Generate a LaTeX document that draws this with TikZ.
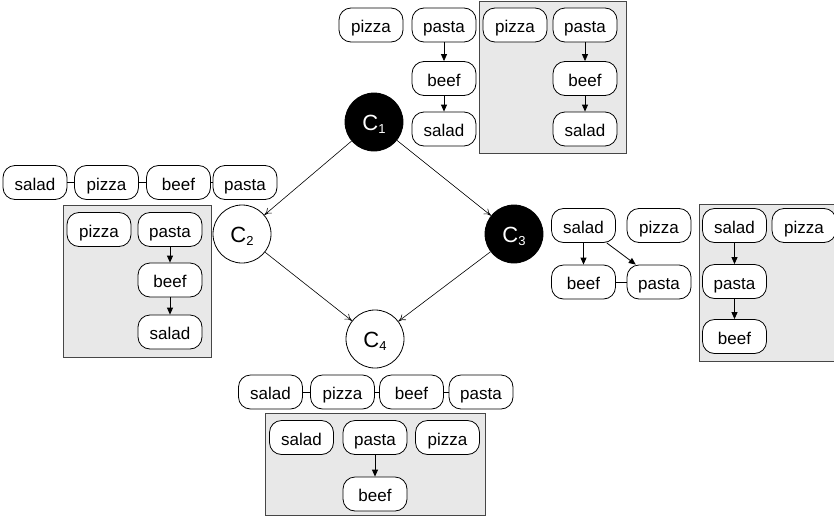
\documentclass[tikz,border=0pt]{standalone}
\usepackage{fontspec}
\setmainfont{Liberation Sans}
\usetikzlibrary{arrows.meta}
\definecolor{boxgray}{RGB}{232,232,232}
\definecolor{boxedge}{RGB}{70,70,70}
\newcommand{\clabel}[1]{\fontsize{22}{24}\selectfont C\raisebox{-2.5pt}{\fontsize{13}{13}\selectfont #1}}
\tikzset{
  pill/.style={draw, line width=0.8pt, fill=white, rounded corners=12pt, minimum width=64pt, minimum height=34pt, inner sep=0pt, text height=17pt, text depth=1.4pt, font=\fontsize{17}{20}\selectfont},
  graybox/.style={draw=boxedge, line width=0.9pt, fill=boxgray},
  cnode/.style={circle, draw, line width=0.8pt, minimum size=58pt, inner sep=0pt},
  darknode/.style={cnode, fill=black, text=white},
  lightnode/.style={cnode, fill=white},
  mainedge/.style={line width=0.6pt, -{To[length=7pt,width=7pt]}},
  smallarrow/.style={line width=0.8pt, -{Triangle[length=7pt,width=6pt]}},
  undir/.style={line width=0.8pt}
}
\begin{document}
\begin{tikzpicture}[x=1pt,y=-1pt]
\useasboundingbox (0,0) rectangle (834,522);
% gray boxes
\filldraw[graybox] (479,1) rectangle (626,153);
\filldraw[graybox] (63,205) rectangle (211,357);
\filldraw[graybox] (699,204) rectangle (845,361);
\filldraw[graybox] (265,413) rectangle (485,515);

% circles
\node[darknode] (c1) at (374,122) {};
\node[lightnode] (c2) at (242,234) {};
\node[darknode] (c3) at (514,234) {};
\node[lightnode] (c4) at (375,339) {};
\node[text=white] (l1) at (c1.center) [yshift=-2.5pt] {\clabel{1}};
\node (l2) at (c2.center) [yshift=-2.5pt] {\clabel{2}};
\node[text=white] (l3) at (c3.center) [yshift=-2.5pt] {\clabel{3}};
\node (l4) at (c4.center) [yshift=-2.5pt] {\clabel{4}};
\draw[mainedge] (c1) -- (c2);
\draw[mainedge] (c1) -- (c3);
\draw[mainedge] (c2) -- (c4);
\draw[mainedge] (c3) -- (c4);

% top group
\node[pill] (tpizza) at (371,25) {pizza};
\node[pill] (tpasta) at (444,25) {pasta};
\node[pill] (tbeef) at (444,78.5) {beef};
\node[pill] (tsalad) at (444,129) {salad};
\draw[smallarrow] (tpasta) -- (tbeef);
\draw[smallarrow] (tbeef) -- (tsalad);
\node[pill] (tbpizza) at (515,25) {pizza};
\node[pill] (tbpasta) at (585,25) {pasta};
\node[pill] (tbbeef) at (585,78.5) {beef};
\node[pill] (tbsalad) at (585,129) {salad};
\draw[smallarrow] (tbpasta) -- (tbbeef);
\draw[smallarrow] (tbbeef) -- (tbsalad);

% left group
\node[pill] (lsalad) at (35,182.5) {salad};
\node[pill] (lpizza) at (106.5,182.5) {pizza};
\node[pill] (lbeef) at (178.5,182.5) {beef};
\node[pill] (lpasta) at (245,182.5) {pasta};
\draw[undir] (lsalad) -- (lpizza);
\draw[undir] (lpizza) -- (lbeef);
\draw[undir] (lbeef) -- (lpasta);
\node[pill] (lbpizza) at (99,229.5) {pizza};
\node[pill] (lbpasta) at (170,229.5) {pasta};
\node[pill] (lbbeef) at (170,280) {beef};
\node[pill] (lbsalad) at (170,332) {salad};
\draw[smallarrow] (lbpasta) -- (lbbeef);
\draw[smallarrow] (lbbeef) -- (lbsalad);

% right group
\node[pill] (rsalad) at (583.5,225.5) {salad};
\node[pill] (rpizza) at (659,225.5) {pizza};
\node[pill] (rbeef) at (583.5,282) {beef};
\node[pill] (rpasta) at (659,282) {pasta};
\draw[smallarrow] (rsalad) -- (rbeef);
\draw[smallarrow] (rsalad) -- (rpasta);
\draw[undir] (rbeef) -- (rpasta);
\node[pill] (rbsalad) at (734.5,225.5) {salad};
\node[pill] (rbpizza) at (804,225.5) {pizza};
\node[pill] (rbpasta) at (734.5,281.5) {pasta};
\node[pill] (rbbeef) at (734.5,336.5) {beef};
\draw[smallarrow] (rbsalad) -- (rbpasta);
\draw[smallarrow] (rbpasta) -- (rbbeef);

% bottom group
\node[pill] (bsalad) at (270.5,392) {salad};
\node[pill] (bpizza) at (342.5,392) {pizza};
\node[pill] (bbeef) at (411.5,392) {beef};
\node[pill] (bpasta) at (481,392) {pasta};
\draw[undir] (bsalad) -- (bpizza);
\draw[undir] (bpizza) -- (bbeef);
\draw[undir] (bbeef) -- (bpasta);
\node[pill] (bbsalad) at (301.5,437.5) {salad};
\node[pill] (bbpasta) at (375,437.5) {pasta};
\node[pill] (bbpizza) at (447.5,437.5) {pizza};
\node[pill] (bbbeef) at (375,494) {beef};
\draw[smallarrow] (bbpasta) -- (bbbeef);
\end{tikzpicture}
\end{document}
